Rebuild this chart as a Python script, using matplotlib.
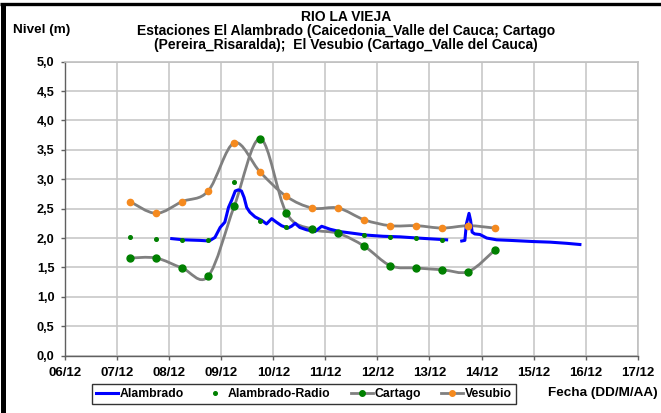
import numpy as np
import matplotlib
matplotlib.use("Agg")
import matplotlib.pyplot as plt
from matplotlib.path import Path
from matplotlib.patches import PathPatch
from matplotlib.lines import Line2D
from matplotlib.font_manager import FontProperties

plt.rcParams['font.family'] = ['Liberation Sans', 'DejaVu Sans']

# ---- data (x = day of December, fractional) ----
tick_days = [6, 7, 8, 9, 10, 11, 12, 13, 14, 15, 16, 17]
tick_labels = ["06/12", "07/12", "08/12", "09/12", "10/12", "11/12",
               "12/12", "13/12", "14/12", "15/12", "16/12", "17/12"]
y_ticks = [0.0, 0.5, 1.0, 1.5, 2.0, 2.5, 3.0, 3.5, 4.0, 4.5, 5.0]
y_labels = ["0,0", "0,5", "1,0", "1,5", "2,0", "2,5", "3,0", "3,5", "4,0", "4,5", "5,0"]

vesubio_t = [7.25, 7.75, 8.25, 8.75, 9.25, 9.75, 10.25, 10.75, 11.25, 11.75,
             12.25, 12.75, 13.25, 13.75, 14.25]
vesubio_v = [2.62, 2.42, 2.62, 2.80, 3.62, 3.12, 2.71, 2.51, 2.51, 2.31,
             2.21, 2.21, 2.17, 2.21, 2.17]

cartago_t = [7.25, 7.75, 8.25, 8.75, 9.25, 9.75, 10.25, 10.75, 11.25, 11.75,
             12.25, 12.75, 13.25, 13.75, 14.25]
cartago_v = [1.66, 1.66, 1.49, 1.35, 2.54, 3.69, 2.43, 2.15, 2.08, 1.86,
             1.53, 1.49, 1.46, 1.43, 1.79]

radio_t = [7.25, 7.75, 8.25, 8.75, 9.25, 9.75, 10.25, 10.75, 11.25, 11.75,
           12.25, 12.75, 13.25]
radio_v = [2.01, 1.98, 1.97, 1.97, 2.95, 2.29, 2.19, 2.13, 2.08, 2.05,
           2.02, 2.00, 1.97]

alambrado_t = [8.05, 8.27, 8.59, 8.77, 8.88, 8.98, 9.07, 9.14, 9.20, 9.27,
               9.33, 9.39, 9.44, 9.49, 9.55, 9.65, 9.78, 9.87, 9.97, 10.06,
               10.16, 10.28, 10.35, 10.42, 10.51, 10.64, 10.80, 10.93, 11.09,
               11.28, 11.54, 11.79, 12.11, 12.44, 12.77, 13.33, 13.45,
               13.62, 13.68, 13.71, 13.76, 13.79, 13.82, 13.87, 13.97, 14.10,
               14.29, 14.55, 15.00, 15.32, 15.64, 15.89]
alambrado_v = [1.99, 1.97, 1.96, 1.95, 2.01, 2.18, 2.27, 2.52, 2.64, 2.80,
               2.82, 2.80, 2.69, 2.52, 2.44, 2.36, 2.30, 2.24, 2.33, 2.27,
               2.21, 2.17, 2.20, 2.25, 2.18, 2.14, 2.11, 2.20, 2.15,
               2.11, 2.08, 2.05, 2.03, 2.02, 2.00, 1.97, np.nan,
               1.95, 1.96, 2.24, 2.42, 2.30, 2.10, 2.07, 2.06, 2.00,
               1.97, 1.96, 1.94, 1.93, 1.91, 1.89]

title_lines = ["RIO LA VIEJA",
               "Estaciones El Alambrado (Caicedonia_Valle del Cauca; Cartago",
               "(Pereira_Risaralda);  El Vesubio (Cartago_Valle del Cauca)"]

GRAY = '#808080'
ORANGE = '#F58A1F'
GREEN = '#008000'
BLUE = '#0000FF'


def smooth_path(xs, ys):
    """Excel-like smoothed line: cubic Bezier segments with Catmull-Rom controls."""
    P = np.column_stack([xs, ys]).astype(float)
    n = len(P)
    verts = [P[0]]
    codes = [Path.MOVETO]
    for i in range(n - 1):
        p0 = P[i - 1] if i > 0 else P[i]
        p1 = P[i]
        p2 = P[i + 1]
        p3 = P[i + 2] if i + 2 < n else P[i + 1]
        c1 = p1 + (p2 - p0) / 6.0
        c2 = p2 - (p3 - p1) / 6.0
        verts += [c1, c2, p2]
        codes += [Path.CURVE4] * 3
    return Path(verts, codes)


W, H = 661, 413
fig = plt.figure(figsize=(W / 100, H / 100), dpi=100)
ax = fig.add_axes([65 / W, 1 - 355.6 / H, (637.7 - 65) / W, (355.6 - 61.7) / H])

ax.set_xlim(6, 17)
ax.set_ylim(0, 5)
ax.set_xticks(tick_days)
ax.set_xticklabels(tick_labels, fontsize=9.5, fontweight='bold')
ax.set_yticks(y_ticks)
ax.set_yticklabels(y_labels, fontsize=9.2, fontweight='bold')
ax.tick_params(axis='both', length=3, width=1, color='#606060', direction='out')
ax.tick_params(axis='x', pad=5.5)
ax.tick_params(axis='y', pad=4.5)

ax.grid(True, color='#C8C8C8', lw=1.2)
ax.set_axisbelow(True)
for s in ['left', 'bottom']:
    ax.spines[s].set_color('#606060')
    ax.spines[s].set_linewidth(1.0)
for s in ['top', 'right']:
    ax.spines[s].set_color('#C0C0C0')
    ax.spines[s].set_linewidth(1.2)

# Vesubio
ax.add_patch(PathPatch(smooth_path(vesubio_t, vesubio_v), fc='none', ec=GRAY, lw=2.0, zorder=3))
ax.plot(vesubio_t, vesubio_v, ls='none', marker='o', ms=4.5, mfc=ORANGE, mec=ORANGE, zorder=5)

# Cartago
ax.add_patch(PathPatch(smooth_path(cartago_t, cartago_v), fc='none', ec=GRAY, lw=2.0, zorder=3))
ax.plot(cartago_t, cartago_v, ls='none', marker='o', ms=5, mfc=GREEN, mec=GREEN, zorder=5)

# Alambrado
ax.plot(alambrado_t, alambrado_v, color=BLUE, lw=2.2, zorder=4)

# Alambrado-Radio
ax.plot(radio_t, radio_v, ls='none', marker='o', ms=2.6, mfc=GREEN, mec=GREEN, zorder=6)

# legend
handles = [
    Line2D([], [], color=BLUE, lw=2.2),
    Line2D([], [], ls='none', marker='o', ms=2.6, mfc=GREEN, mec=GREEN),
    Line2D([], [], color=GRAY, lw=2.0, marker='o', ms=4, mfc=GREEN, mec=GREEN),
    Line2D([], [], color=GRAY, lw=2.0, marker='o', ms=4, mfc=ORANGE, mec=ORANGE),
]
leg = fig.legend(handles, ["Alambrado", "Alambrado-Radio", "Cartago", "Vesubio"],
                 loc='center', bbox_to_anchor=(304 / W, 1 - 394 / H), ncol=4,
                 frameon=True, fancybox=False, handlelength=1.8,
                 handletextpad=0.15, columnspacing=1.65, borderpad=0.3,
                 borderaxespad=0, prop=FontProperties(weight='bold', size=8.8))
leg.get_frame().set_edgecolor('black')
leg.get_frame().set_linewidth(1.0)

# texts
for i, (txt, yy) in enumerate(zip(title_lines, [17, 31, 45])):
    fig.text(346 / W, 1 - yy / H, txt, ha='center', va='center',
             fontsize=10, fontweight='bold')
fig.text(13 / W, 1 - 30.5 / H, "Nivel (m)", ha='left', va='center', fontsize=9.7, fontweight='bold')
fig.text(657.5 / W, 1 - 393 / H, "Fecha (DD/M/AA)", ha='right', va='center', fontsize=9.7, fontweight='bold')

# outer frame (left and top edges visible)
fig.add_artist(Line2D([2.5 / W, 2.5 / W], [0, 1 - 3.5 / H], transform=fig.transFigure,
                      color='black', lw=3.6, solid_capstyle='butt'))
fig.add_artist(Line2D([0, 1], [1 - 3.5 / H, 1 - 3.5 / H], transform=fig.transFigure,
                      color='black', lw=2.4, solid_capstyle='butt'))

fig.savefig("out.png", dpi=100)
